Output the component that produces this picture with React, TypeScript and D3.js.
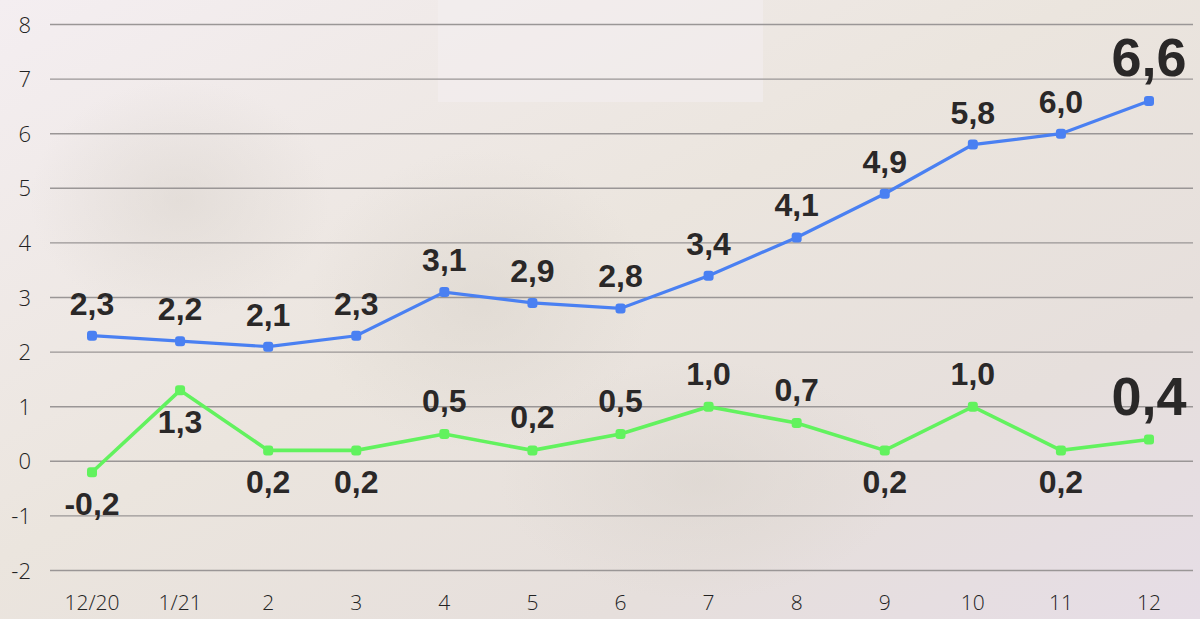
import React from "react";
import * as d3 from "d3";

const categories = ["12/20", "1/21", "2", "3", "4", "5", "6", "7", "8", "9", "10", "11", "12"];
const blueValues = [2.3, 2.2, 2.1, 2.3, 3.1, 2.9, 2.8, 3.4, 4.1, 4.9, 5.8, 6.0, 6.6];
const greenValues = [-0.2, 1.3, 0.2, 0.2, 0.5, 0.2, 0.5, 1.0, 0.7, 0.2, 1.0, 0.2, 0.4];
// label placement for green series: "a" above, "b" below
const greenLabelSide = ["b", "b", "b", "b", "a", "a", "a", "a", "a", "b", "a", "b", "a"];
const yTicks = [-2, -1, 0, 1, 2, 3, 4, 5, 6, 7, 8];

const W = 1200;
const H = 619;

const fmt = (v: number) => v.toFixed(1).replace(".", ",");

export default function App() {
  const x = d3.scalePoint<string>().domain(categories).range([92, 1149]);
  const y = d3.scaleLinear().domain([-2, 8]).range([570.5, 24.5]);

  const line = d3
    .line<number>()
    .x((_, i) => x(categories[i]) as number)
    .y((d) => y(d));

  const last = categories.length - 1;
  const labelFont = "'Liberation Sans', Arial, Helvetica, sans-serif";
  const tickFont = "'Open Sans', 'Liberation Sans', Arial, sans-serif";

  return (
    <svg
      width={W}
      height={H}
      style={{ position: "absolute", left: 0, top: 0, display: "block" }}
    >
      <defs>
        <linearGradient id="bg" x1="0" y1="0" x2="1" y2="1">
          <stop offset="0%" stopColor="#f4eef1" />
          <stop offset="45%" stopColor="#ebe5de" />
          <stop offset="75%" stopColor="#e6dfdc" />
          <stop offset="100%" stopColor="#e6dde6" />
        </linearGradient>
        <radialGradient id="blob1" cx="0.5" cy="0.5" r="0.5">
          <stop offset="0%" stopColor="#d8d2cb" stopOpacity="0.5" />
          <stop offset="100%" stopColor="#d8d2cb" stopOpacity="0" />
        </radialGradient>
      </defs>
      <rect x={0} y={0} width={W} height={H} fill="url(#bg)" />
      <ellipse cx={180} cy={200} rx={150} ry={120} fill="url(#blob1)" />
      <ellipse cx={480} cy={300} rx={170} ry={150} fill="url(#blob1)" />
      <ellipse cx={700} cy={480} rx={200} ry={120} fill="url(#blob1)" />
      <rect x={438} y={0} width={325} height={102} fill="#f3eff0" opacity={0.6} />

      {yTicks.map((t) => (
        <g key={t}>
          <line x1={50} x2={1193} y1={y(t)} y2={y(t)} stroke="#9a9696" strokeWidth={1.4} />
          <text
            x={31}
            y={y(t) + 8}
            textAnchor="end"
            fontFamily={tickFont}
            fontWeight={300}
            fontSize={22}
            fill="#222"
          >
            {t}
          </text>
        </g>
      ))}

      {categories.map((c) => (
        <text
          key={c}
          x={x(c) as number}
          y={610}
          textAnchor="middle"
          fontFamily={tickFont}
          fontWeight={300}
          fontSize={21}
          fill="#222"
        >
          {c}
        </text>
      ))}

      <path d={line(blueValues) || ""} fill="none" stroke="#4a80f2" strokeWidth={3.2} />
      <path d={line(greenValues) || ""} fill="none" stroke="#62f25e" strokeWidth={3.6} />

      {blueValues.map((v, i) => (
        <rect
          key={"bm" + i}
          x={(x(categories[i]) as number) - 5}
          y={y(v) - 5}
          width={10}
          height={10}
          rx={3}
          fill="#4a80f2"
        />
      ))}
      {greenValues.map((v, i) => (
        <rect
          key={"gm" + i}
          x={(x(categories[i]) as number) - 5}
          y={y(v) - 5}
          width={10}
          height={10}
          rx={3}
          fill="#62f25e"
        />
      ))}

      {blueValues.map((v, i) => (
        <text
          key={"bl" + i}
          x={x(categories[i]) as number}
          y={y(v) - (i === last ? 25 : 21)}
          textAnchor="middle"
          fontFamily={labelFont}
          fontWeight={700}
          fontSize={i === last ? 54 : 32}
          fill="#2a2828"
        >
          {fmt(v)}
        </text>
      ))}
      {greenValues.map((v, i) => (
        <text
          key={"gl" + i}
          x={x(categories[i]) as number}
          y={greenLabelSide[i] === "a" ? y(v) - (i === last ? 24 : 22) : y(v) + 43}
          textAnchor="middle"
          fontFamily={labelFont}
          fontWeight={700}
          fontSize={i === last ? 54 : 32}
          fill="#2a2828"
        >
          {fmt(v)}
        </text>
      ))}
    </svg>
  );
}
